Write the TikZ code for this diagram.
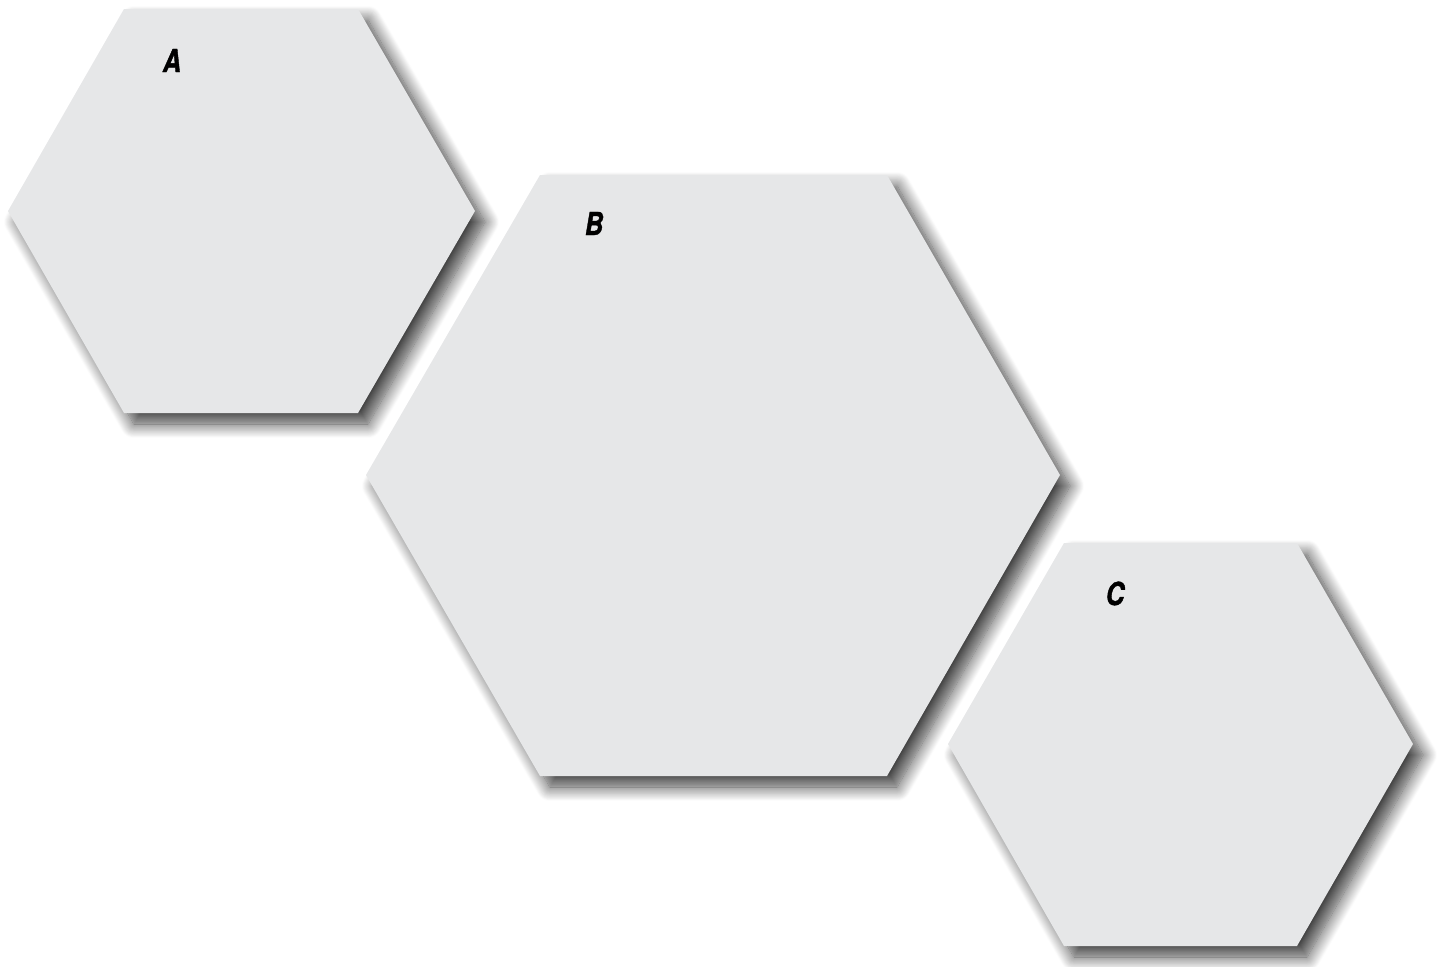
\documentclass[tikz,border=0pt]{standalone}
\usepackage{fontspec}
\newfontfamily\labfont[FakeStretch=0.8,FakeBold=1.2]{TeX Gyre Heros}
\usetikzlibrary{shadows.blur}
\definecolor{hexfill}{HTML}{E6E7E8}
\tikzset{
  hexshape/.style={fill=hexfill, draw=none,
    blur shadow={shadow xshift=0.2cm, shadow yshift=-0.22cm,
      shadow blur radius=0.28cm, shadow blur steps=16, shadow opacity=75}},
  hexlabel/.style={font=\labfont\fontsize{18}{18}\selectfont\bfseries\itshape, inner sep=0pt, anchor=base}
}
\begin{document}
\begin{tikzpicture}[x=0.02cm,y=-0.02cm]
\useasboundingbox (0,0) rectangle (1437,967);
% hexagon A
\path[hexshape] (124,9) -- (358,9) -- (475,211) -- (358,413) -- (124,413) -- (8,211) -- cycle;
% hexagon B
\path[hexshape] (540,175) -- (887,175) -- (1060,475) -- (887,776) -- (540,776) -- (366,475) -- cycle;
% hexagon C
\path[hexshape] (1064,543) -- (1297,543) -- (1413,744) -- (1297,946) -- (1064,946) -- (948,744) -- cycle;
\node[hexlabel] (la) at (172,72) {A};
\node[hexlabel] (lb) at (594,235) {B};
\node[hexlabel] (lc) at (1115,605) {C};
\end{tikzpicture}
\end{document}
